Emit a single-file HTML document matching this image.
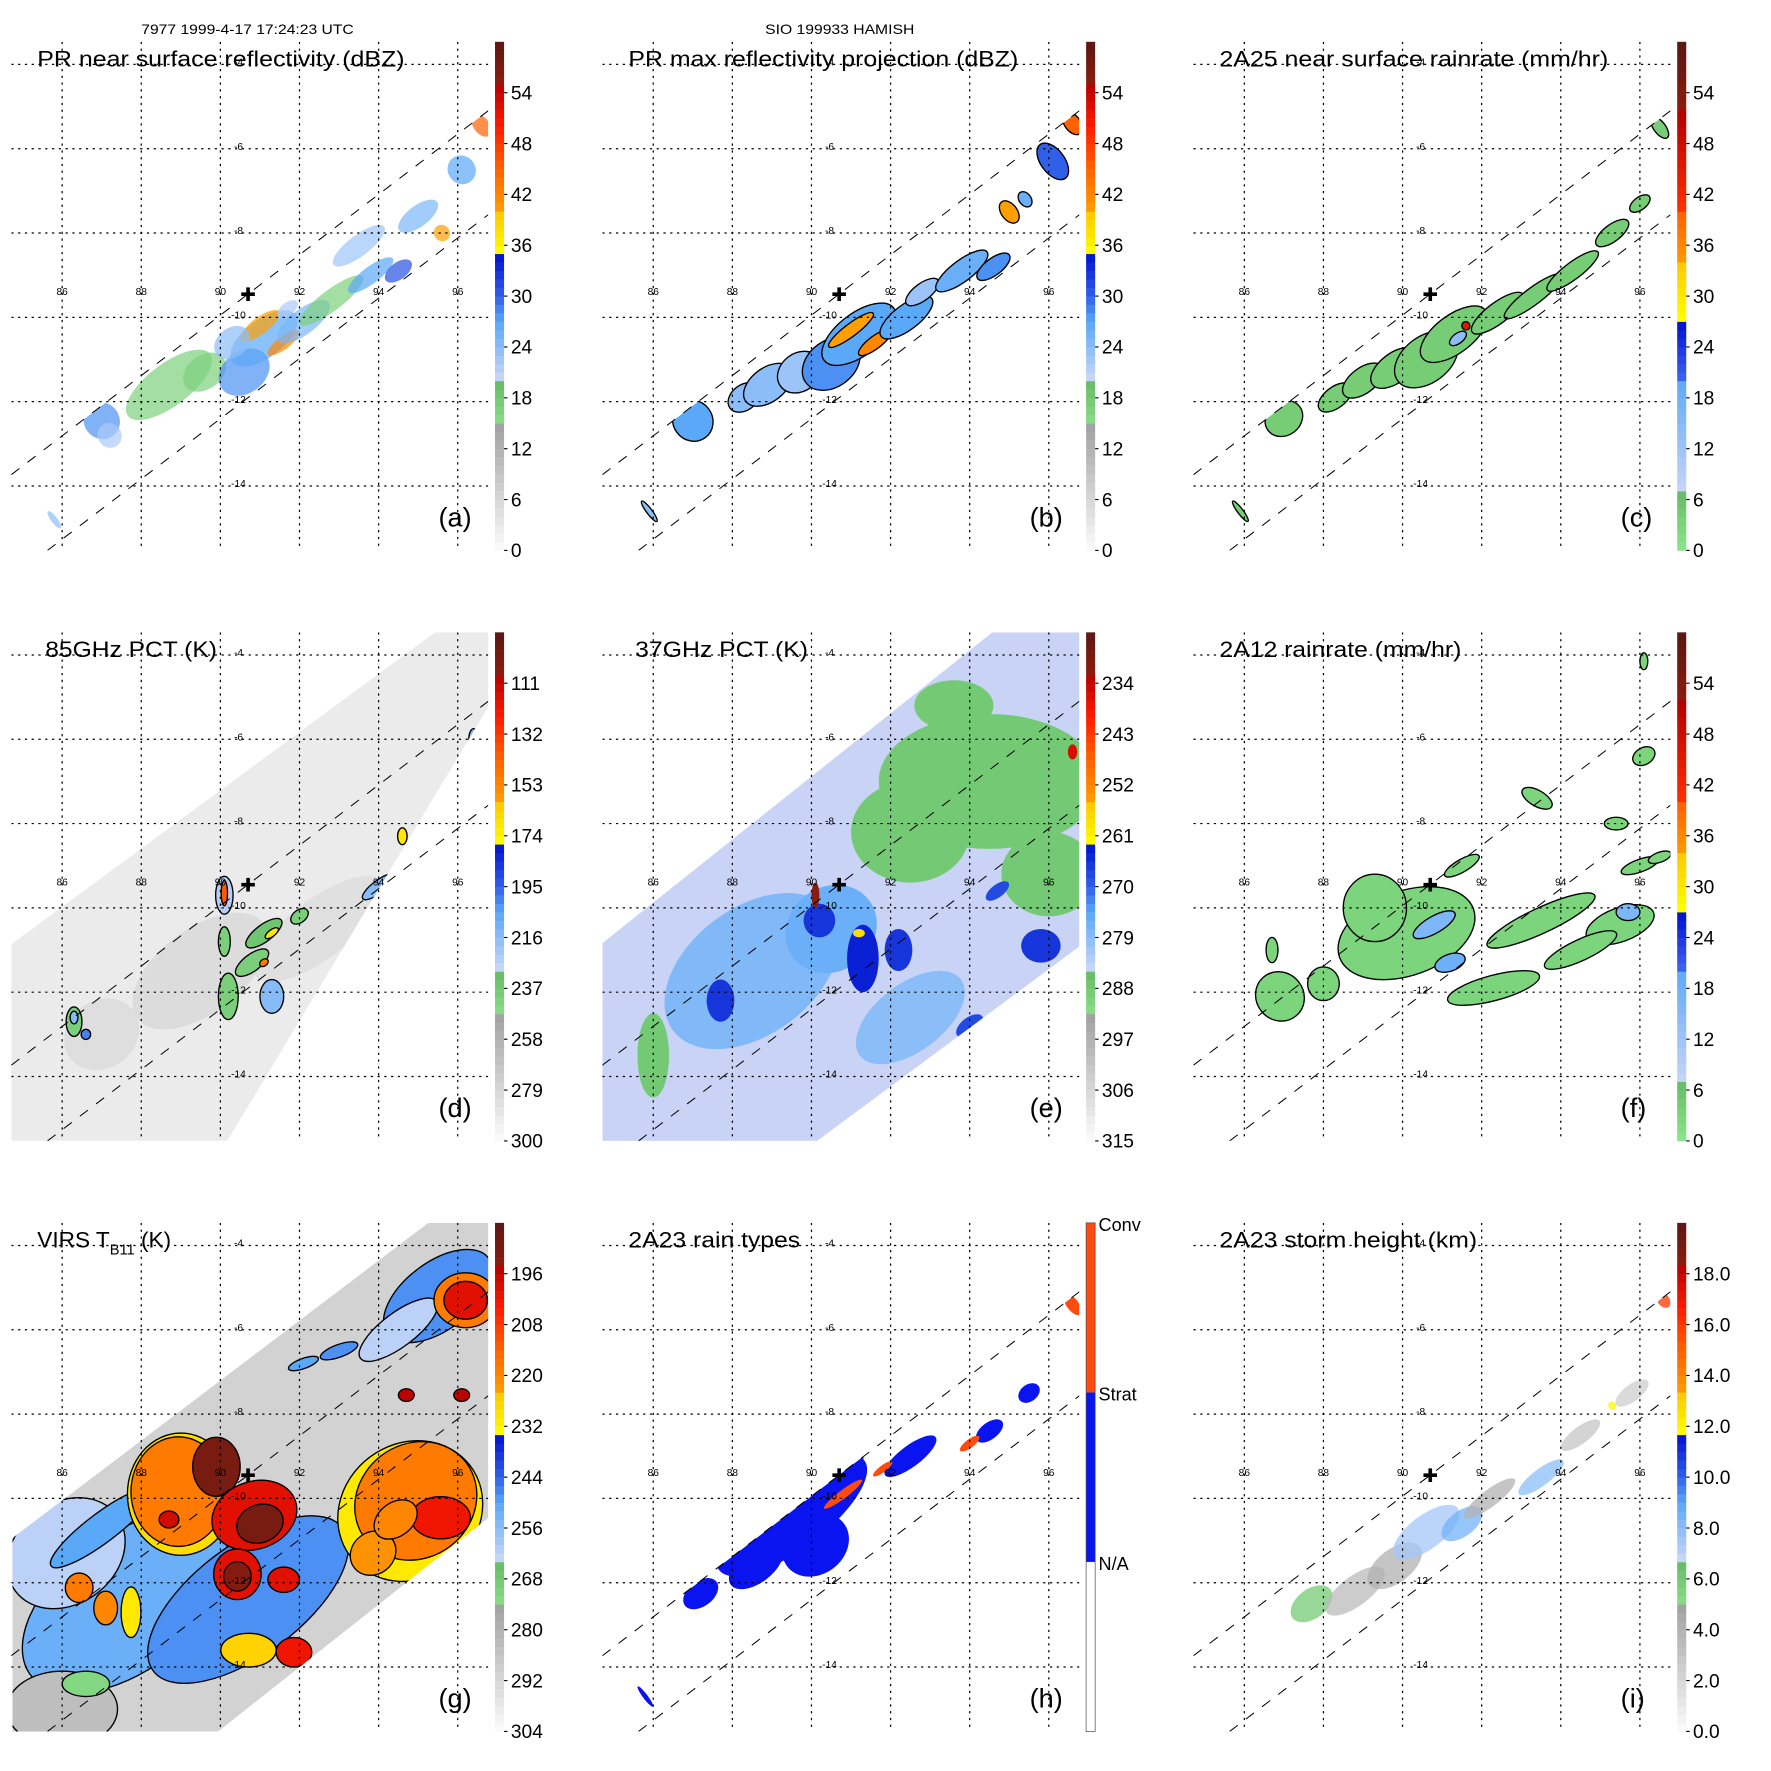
<!DOCTYPE html>
<html><head><meta charset="utf-8"><title>TRMM HAMISH 1999-4-17 multi-panel</title>
<style>
html,body{margin:0;padding:0;background:#fff;}
svg{display:block;font-family:"Liberation Sans",Arial,sans-serif;}
</style></head>
<body>
<svg id="fig" xmlns="http://www.w3.org/2000/svg" width="1771" height="1771" viewBox="0 0 1567 1567">
  <rect x="0" y="0" width="1567" height="1567" fill="#fff"/>
  <text x="125" y="30" font-size="12" textLength="188" lengthAdjust="spacingAndGlyphs">7977 1999-4-17 17:24:23 UTC</text>
  <text x="677" y="30" font-size="12" textLength="132" lengthAdjust="spacingAndGlyphs">SIO 199933 HAMISH</text>
  <g id="panels"></g>
</svg>
<script>
// ---- map axes: longitude ticks, latitude ticks ----
const lonTicks = [86, 88, 90, 92, 94, 96];
const latTicks = [-4, -6, -8, -10, -12, -14];
const stormCenter = [90.7, -9.45];

// ---- blob data: [lon, lat, rxDeg, ryDeg, value, angle(optional)] ----
const aBlobs = [
 [87.0,-12.45,.45,.45,28],[87.2,-12.8,.3,.3,22],[88.7,-11.6,1.3,.5,17],[89.6,-11.3,.6,.4,17],
 [90.6,-11.3,.7,.5,28],[91.1,-10.5,1.0,.45,27],[91.0,-10.2,.6,.2,40],[91.6,-10.6,.5,.15,42],
 [90.3,-10.6,.5,.35,24],[92.1,-10.1,.8,.3,25],[92.8,-9.6,1.0,.25,17],[93.8,-9.0,.7,.2,27],
 [94.5,-8.9,.4,.2,31],[93.5,-8.3,.8,.25,23],[95.0,-7.6,.6,.25,25],[95.6,-8.0,.2,.2,40],
 [96.1,-6.5,.35,.35,27],[96.6,-5.45,.2,.3,45],[85.8,-14.8,.08,.25,24],[91.7,-9.8,.3,.15,22]
];
const bBlobs = [
 [87.0,-12.45,.5,.5,27],[88.3,-11.9,.45,.3,24],[88.9,-11.6,.7,.4,24],[89.7,-11.3,.6,.45,23],
 [90.5,-11.1,.8,.55,28],[91.2,-10.4,1.1,.5,27],[91.0,-10.3,.7,.15,40],[91.6,-10.6,.5,.15,42],
 [92.4,-10.0,.8,.3,27],[92.8,-9.4,.5,.2,23],[93.8,-8.9,.8,.25,26],[94.6,-8.8,.5,.2,28],
 [95.0,-7.5,.2,.3,40],[95.4,-7.2,.15,.2,26],[96.1,-6.3,.3,.5,30],[96.6,-5.4,.2,.3,45],[85.9,-14.6,.07,.3,24]
];
const cBlobs = [
 [87.0,-12.4,.5,.4,4],[88.3,-11.9,.5,.25,4],[89.0,-11.5,.6,.3,4],[89.8,-11.2,.7,.35,4],
 [90.6,-11.0,.9,.55,4],[91.3,-10.4,1.0,.45,4],[91.4,-10.5,.25,.12,14],[91.6,-10.2,.1,.1,45],
 [92.4,-9.9,.8,.25,4],[93.3,-9.5,.9,.2,4],[94.3,-8.9,.8,.2,4],[95.3,-8.0,.5,.2,4],
 [96.0,-7.3,.3,.15,4],[96.5,-5.5,.15,.3,4],[85.9,-14.6,.07,.3,4]
];
const dShade = [
 [89.5,-11.5,2.0,1.0,276],[92.5,-10.5,2.0,.7,280],[87.0,-13.0,1.0,.8,278]
];
const dBlobs = [
 [90.1,-9.7,.22,.45,225,0],[90.1,-9.65,.08,.3,140,0],[90.1,-10.8,.15,.35,240,0],
 [91.1,-10.6,.55,.2,235],[91.3,-10.6,.2,.08,170],[90.8,-11.3,.5,.2,240],[91.1,-11.3,.12,.08,150],
 [90.2,-12.1,.25,.55,240,0],[91.3,-12.1,.3,.4,215,0],[86.3,-12.7,.2,.35,240,0],[86.3,-12.6,.1,.15,215,0],
 [86.6,-13.0,.12,.12,200,0],[95.6,-11.0,.35,.45,235,0],[95.6,-11.0,.2,.2,210,0],[95.2,-10.4,.2,.3,220,0],
 [94.0,-9.5,.5,.15,215],[96.4,-6.0,.12,.25,215,0],[96.4,-6.0,.06,.12,150,0],[94.6,-8.3,.12,.2,170,0],
 [96.4,-8.3,.1,.12,190,0],[92.0,-10.2,.25,.15,240],[92.5,-12.6,.1,.1,240,0],[91.7,-13.9,.1,.15,240,0],[93.6,-13.3,.15,.1,240,0]
];
const eBlobs = [
 [94.5,-7.0,2.8,1.6,288,0],[96.0,-9.2,1.2,1.0,288,0],[92.5,-8.2,1.5,1.2,288,0],[93.6,-5.2,1.0,.6,288,0],
 [88.5,-11.5,2.5,1.5,278],[90.5,-10.5,1.2,1.0,276],[92.5,-12.6,1.6,.8,279],[86.0,-13.5,.4,1.0,288,0],
 [87.7,-12.2,.35,.5,266,0],[90.2,-10.3,.4,.4,266,0],[91.3,-11.2,.4,.8,264,0],[92.2,-11.0,.35,.5,266,0],
 [95.8,-10.9,.5,.4,266,0],[94.0,-12.8,.4,.2,268],[94.7,-9.6,.35,.15,268],[95.2,-13.5,.3,.2,268],
 [90.1,-9.7,.1,.3,232,0],[91.2,-10.6,.15,.1,258,0],[96.6,-6.3,.12,.18,236,0]
];
const fBlobs = [
 [90.1,-10.6,1.8,1.0,3,-20],[89.3,-10.0,.8,.8,3,0],[93.5,-10.3,1.5,.3,3,-25],[95.5,-10.4,.9,.4,3,-20],
 [94.5,-11.0,1.0,.25,3,-25],[92.3,-11.9,1.2,.3,3,-15],[86.9,-12.1,.6,.6,3,-40],[88.0,-11.8,.4,.4,3,0],
 [86.7,-11.0,.15,.3,3,0],[91.5,-9.0,.5,.15,3,-30],[93.4,-7.4,.2,.4,3,-60],[96.1,-6.4,.3,.2,3,-30],
 [96.0,-9.0,.5,.15,3,-20],[95.4,-8.0,.3,.15,3,0],[96.5,-8.8,.3,.12,3,-20],[96.1,-4.15,.1,.2,3,0],
 [90.8,-10.4,.6,.2,16,-30],[91.2,-11.3,.4,.2,18,-20],[95.7,-10.1,.3,.2,16,0]
];
const gBlobs = [
 [87.6,-12.5,3.0,1.6,252],[86.1,-11.3,1.6,1.2,262],[87.0,-10.7,1.6,.35,250],[90.7,-12.4,3.0,1.3,248],
 [86.0,-15.0,1.4,.9,284,0],[86.6,-14.4,.6,.3,272,0],
 [95.5,-5.2,1.6,.8,248],[94.5,-6.0,1.2,.4,262],
 [89.0,-9.9,1.35,1.45,228,0],[88.94,-9.84,1.2,1.3,218,0],[89.9,-9.25,.6,.7,190,0],
 [90.86,-10.4,1.1,.8,200,-20],[91.0,-10.6,.6,.45,190,-20],[90.43,-11.8,.6,.6,200,0],[90.43,-11.85,.35,.35,192,0],
 [91.6,-11.93,.4,.3,200,0],[88.7,-10.5,.25,.2,198,0],
 [94.8,-10.3,1.9,1.6,230],[94.94,-10.06,1.6,1.35,218],[95.57,-10.46,.75,.5,202,0],
 [96.2,-5.3,.8,.65,218,0],[96.2,-5.3,.55,.45,200,0],
 [86.43,-12.12,.35,.35,218,0],[87.1,-12.6,.3,.4,220,0],[87.74,-12.7,.25,.6,230,0],
 [90.71,-13.6,.7,.4,226,0],[91.86,-13.65,.45,.35,202,0],[93.86,-11.3,.6,.5,222],[94.43,-10.5,.6,.4,220],
 [94.7,-7.55,.2,.15,195,0],[96.1,-7.55,.2,.15,195,0],[93.0,-6.5,.5,.15,248,-20],[92.1,-6.8,.4,.12,250,-20]
];
const hBlobs = [
 [89.5,-10.4,2.3,.8,1],[90.1,-11.1,.9,.7,1],[88.6,-11.6,.8,.4,1],[87.2,-12.26,.5,.3,1],[90.63,-9.3,.8,.4,1],[92.5,-9.0,.8,.25,1],
 [94.5,-8.4,.4,.2,1],[95.5,-7.5,.3,.2,1],[96.6,-5.4,.15,.3,2],[90.8,-9.9,.6,.1,2],
 [94.0,-8.7,.3,.1,2],[91.8,-9.3,.3,.08,2],[85.8,-14.7,.06,.3,1]
];
const iBlobs = [
 [87.7,-12.5,.6,.35,6],[88.8,-12.2,.9,.35,3.5],[89.8,-11.6,.8,.4,4],[90.6,-10.8,1.0,.4,7.5],
 [91.5,-10.6,.6,.3,8.5],[92.2,-10.0,.8,.2,4],[93.5,-9.5,.7,.2,8],[94.5,-8.5,.6,.2,3],
 [95.8,-7.5,.5,.2,2.5],[96.6,-5.3,.15,.2,16],[95.3,-7.8,.1,.1,12]
];

// ---- colorbar tick labels ----
const dbzLabels = ['0','6','12','18','24','30','36','42','48','54'];
const pct85Labels = ['300','279','258','237','216','195','174','153','132','111'];
const pct37Labels = ['315','306','297','288','279','270','261','252','243','234'];
const virsLabels = ['304','292','280','268','256','244','232','220','208','196'];
const heightLabels = ['0.0','2.0','4.0','6.0','8.0','10.0','12.0','14.0','16.0','18.0'];
const rainTypeLabels = ['N/A','Strat','Conv'];

const NS='http://www.w3.org/2000/svg';
const PX=35, PY=37.3;
function X(lon){return 55+(lon-86)*PX;}
function Y(lat){return 57+(-4-lat)*PY;}
function mk(tag,attrs,parent){const e=document.createElementNS(NS,tag);for(const k in attrs)e.setAttribute(k,attrs[k]);if(parent)parent.appendChild(e);return e;}
function hex(c){return [parseInt(c.substr(1,2),16),parseInt(c.substr(3,2),16),parseInt(c.substr(5,2),16)];}
function interp(stops,f){f=Math.max(0,Math.min(1,f));for(let i=0;i<stops.length-1;i++){const a=stops[i],b=stops[i+1];if(f<=b[0]){const t=(f-a[0])/((b[0]-a[0])||1);const ca=hex(a[1]),cb=hex(b[1]);return 'rgb('+ca.map((v,j)=>Math.round(v+(cb[j]-v)*t)).join(',')+')';}}return stops[stops.length-1][1];}
const dbzStops=[[0,'#fcfcfc'],[0.249,'#a0a0a0'],[0.25,'#8ade8a'],[0.333,'#66bb66'],[0.334,'#ccd8f8'],[0.45,'#5aa8f8'],[0.5,'#3060e8'],[0.583,'#0010d0'],[0.584,'#ffff00'],[0.664,'#ffc800'],[0.665,'#ffa000'],[0.76,'#ff5a00'],[0.834,'#ff1a00'],[0.92,'#b00000'],[0.921,'#8a1c10'],[1,'#5a1812']];
const rainStops=[[0,'#8ce68c'],[0.117,'#66bb66'],[0.118,'#c8d4f8'],[0.34,'#5aa8f8'],[0.341,'#3a60f0'],[0.45,'#0010d0'],[0.451,'#ffff00'],[0.567,'#ffc800'],[0.568,'#ff9a00'],[0.667,'#ff6000'],[0.668,'#ff3000'],[0.867,'#b00000'],[0.868,'#8a1c10'],[1,'#5a1812']];
function typeColor(f){return f<1/3?'#ffffff':(f<2/3?'#0a14f0':'#ff4a10');}

const prClip=[[10,420],[432,98],[432,190],[42,487],[10,487]];
const panels=[
 {id:'a',col:0,row:0,title:'PR near surface reflectivity (dBZ)',tw:325,blobs:aBlobs,lo:0,hi:60,stops:dbzStops,labels:dbzLabels,clip:prClip,op:0.7,outline:false},
 {id:'b',col:1,row:0,title:'PR max reflectivity projection (dBZ)',tw:345,blobs:bBlobs,lo:0,hi:60,stops:dbzStops,labels:dbzLabels,clip:prClip,op:1,outline:true},
 {id:'c',col:2,row:0,title:'2A25 near surface rainrate (mm/hr)',tw:344,blobs:cBlobs,lo:0,hi:60,stops:rainStops,labels:dbzLabels,clip:prClip,op:1,outline:true},
 {id:'d',col:0,row:1,title:'85GHz PCT (K)',tw:152,blobs:dBlobs,shade:dShade,lo:300,hi:90,stops:dbzStops,labels:pct85Labels,clip:[[10,313],[385,37],[432,37],[432,103],[201,487],[10,487]],bg:'#ebebeb',op:1,outline:true},
 {id:'e',col:1,row:1,title:'37GHz PCT (K)',tw:153,blobs:eBlobs,lo:315,hi:225,stops:dbzStops,labels:pct37Labels,clip:[[10,312],[355,37],[432,37],[432,315],[200,487],[10,487]],bg:'#c9d3f5',op:1,outline:false},
 {id:'f',col:2,row:1,title:'2A12 rainrate (mm/hr)',tw:214,blobs:fBlobs,lo:0,hi:60,stops:rainStops,labels:dbzLabels,clip:null,op:1,outline:true},
 {id:'g',col:0,row:2,title:'VIRS',tw:130,blobs:gBlobs,lo:304,hi:184,stops:dbzStops,labels:virsLabels,clip:[[11,316],[379,37],[432,37],[432,298],[193,487],[11,487]],bg:'#d2d2d2',op:1,outline:true},
 {id:'h',col:1,row:2,title:'2A23 rain types',tw:152,blobs:hBlobs,lo:0,hi:3,stops:null,labels:rainTypeLabels,clip:prClip,op:1,outline:false},
 {id:'i',col:2,row:2,title:'2A23 storm height (km)',tw:228,blobs:iBlobs,lo:0,hi:20,stops:dbzStops,labels:heightLabels,clip:prClip,op:0.75,outline:false}
];

const root=document.getElementById('panels');
panels.forEach(p=>{
  const ox=p.col*523, oy=p.row*522.5;
  const g=mk('g',{transform:'translate('+ox+','+oy+')'},root);
  
  
  const cmap=v=>{const f=(v-p.lo)/(p.hi-p.lo);return p.stops?interp(p.stops,f):typeColor(f);};
  const defs=mk('defs',{},g);
  const mapClip=mk('clipPath',{id:'map-'+p.id},defs);
  mk('rect',{x:10,y:37,width:422,height:450},mapClip);
  const swClip=mk('clipPath',{id:'sw-'+p.id},defs);
  if(p.clip) mk('polygon',{points:p.clip.map(q=>q.join(',')).join(' ')},swClip);
  else mk('rect',{x:10,y:37,width:422,height:450},swClip);
  const map=mk('g',{'clip-path':'url(#map-'+p.id+')'},g);
  
  
  const data=mk('g',{'clip-path':'url(#sw-'+p.id+')'},map);
  
  
  if(p.bg){
    const bg=mk('rect',{x:0,y:0,width:440,height:490,fill:p.bg},data);
    
    
  }
  (p.shade||[]).forEach(b=>{
    const el=mk('ellipse',{cx:X(b[0]),cy:Y(b[1]),rx:b[2]*PX,ry:b[3]*PY,fill:cmap(b[4]),opacity:0.6,transform:'rotate('+(b[5]===undefined?-37:b[5])+' '+X(b[0])+' '+Y(b[1])+')'},data);
    
    
  });
  p.blobs.forEach(b=>{
    const ang=b[5]===undefined?-37:b[5];
    const el=mk('ellipse',{cx:X(b[0]),cy:Y(b[1]),rx:b[2]*PX,ry:b[3]*PY,fill:cmap(b[4]),'fill-opacity':p.op,transform:'rotate('+ang+' '+X(b[0])+' '+Y(b[1])+')'},data);
    if(p.outline){el.setAttribute('stroke','#000');el.setAttribute('stroke-width','1.2');}
    
    
  });
  lonTicks.forEach(l=>{
    const ln=mk('line',{x1:X(l),x2:X(l),y1:37,y2:487,stroke:'#000','stroke-width':1.1,'stroke-dasharray':'2,4'},map);
    
    
    const t=mk('text',{x:X(l),y:261,'font-size':9,'text-anchor':'middle'},map);
    t.textContent=String(l);
    
    
  });
  latTicks.forEach(l=>{
    const ln=mk('line',{x1:10,x2:432,y1:Y(l),y2:Y(l),stroke:'#000','stroke-width':1.1,'stroke-dasharray':'2,4'},map);
    
    
    const t=mk('text',{x:211,y:Y(l)+1,'font-size':9,'text-anchor':'middle'},map);
    t.textContent=String(l);
    
    
  });
  [[[10,420],[432,98]],[[42,487],[432,190]]].forEach(s=>{
    const ln=mk('line',{x1:s[0][0],y1:s[0][1],x2:s[1][0],y2:s[1][1],stroke:'#000','stroke-width':0.9,'stroke-dasharray':'9,9'},map);
    
    
  });
  const cx=X(stormCenter[0]), cy=Y(stormCenter[1]);
  const cr=mk('path',{d:'M'+(cx-6)+' '+cy+'H'+(cx+6)+'M'+cx+' '+(cy-6)+'V'+(cy+6),stroke:'#000','stroke-width':3.2},g);
  
  
  const tt=mk('text',{x:(p.id==='d'?40:(p.id==='e'?39:33)),y:59,'font-size':20,textLength:p.tw,lengthAdjust:'spacingAndGlyphs'},g);
  if(p.id==='g'){
    tt.removeAttribute('textLength');
    tt.innerHTML='VIRS T<tspan font-size="13" dy="6">B11</tspan><tspan dy="-6"> (K)</tspan>';
  } else tt.textContent=p.title;
  
  
  const lt=mk('text',{x:388,y:466,'font-size':24},g);
  lt.textContent='('+p.id+')';
  
  
  const cb=mk('g',{},g);
  
  
  if(p.id==='h'){
    const segs=[['#ffffff',337],['#0a14f0',187],['#ff4a10',37]];
    segs.forEach(s=>{const r=mk('rect',{x:438,y:s[1],width:8,height:150,fill:s[0]},cb);
      
      });
    mk('rect',{x:438,y:37,width:8,height:450,fill:'none',stroke:'#444','stroke-width':0.6},cb);
    p.labels.forEach((lab,i)=>{
      const t=mk('text',{x:449,y:337-i*150+7,'font-size':16},cb);
      t.textContent=lab;
      
      
    });
  } else {
    for(let i=0;i<60;i++){
      const f=(i+0.5)/60;
      const r=mk('rect',{x:438,y:487-(i+1)*7.5,width:8,height:7.8,fill:interp(p.stops,f)},cb);
      
      
    }
    p.labels.forEach((lab,i)=>{
      const y=487-i*45;
      const tk=mk('line',{x1:446,x2:449,y1:y,y2:y,stroke:'#000','stroke-width':1},cb);
      
      
      const t=mk('text',{x:452,y:y+6,'font-size':17},cb);
      t.textContent=lab;
      
      
    });
  }
});
</script>
</body></html>
